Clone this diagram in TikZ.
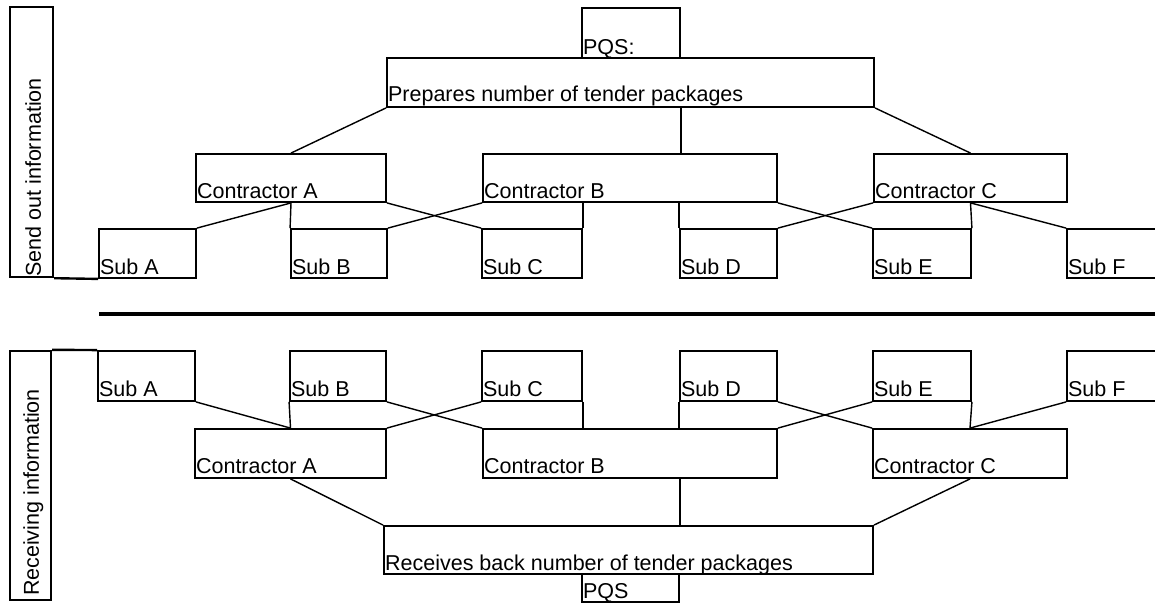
\documentclass[tikz,border=0pt]{standalone}
\usepackage{fontspec}
\setmainfont{Liberation Sans}
\usetikzlibrary{fit}
\tikzset{
  box/.style={draw, rectangle, inner sep=0pt, line width=1.3pt},
  sidebox/.style={draw, rectangle, inner sep=0pt, line width=1.7pt},
  lbl/.style={anchor=base west, inner sep=0pt, xshift=1.2pt, yshift=3.3pt},
  sidelbl/.style={anchor=base west, inner sep=0pt, xshift=-9.5pt, yshift=#1, rotate=90},
  link/.style={line width=1pt},
}

\begin{document}
\begin{tikzpicture}[x=0.025cm, y=-0.025cm, font=\fontsize{15.3pt}{18pt}\selectfont]
\useasboundingbox (0,0) rectangle (1155,603);
\clip (0,0) rectangle (1155,603);
% send out information
\node[sidebox, fit={(10,7) (53,277)}, label={[sidelbl=0.8pt]south east:Send out information}] (sideS) {};
\node[box, fit={(582,8) (680,58)}, label={[lbl]south west:PQS:}] (pqsT) {};
\node[box, fit={(387,58) (874,107)}, label={[lbl, yshift=1.4pt]south west:Prepares number of tender packages}] (prep) {};
% three contractors
\node[box, fit={(196,154) (386,202)}, label={[lbl]south west:Contractor A}] (cA) {};
\node[box, fit={(483,154) (777,202)}, label={[lbl]south west:Contractor B}] (cB) {};
\node[box, fit={(874,154) (1067,202)}, label={[lbl]south west:Contractor C}] (cC) {};
% six subs
\node[box, fit={(99,229) (196,278)}, label={[lbl]south west:Sub A}] (subA) {};
\node[box, fit={(291,229) (387,278)}, label={[lbl]south west:Sub B}] (subB) {};
\node[box, fit={(482,229) (582,278)}, label={[lbl]south west:Sub C}] (subC) {};
\node[box, fit={(680,229) (777,278)}, label={[lbl]south west:Sub D}] (subD) {};
\node[box, fit={(873,229) (971,278)}, label={[lbl]south west:Sub E}] (subE) {};
\node[box, fit={(1067,229) (1170,278)}, label={[lbl]south west:Sub F}] (subF) {};
% lines down
\draw[sidebox] (sideS.south east) -- (subA.south west);
\draw[link] (prep.south west) -- (cA.north);
\draw[link] (pqsT.south east |- prep.south) -- (pqsT.south east |- cB.north);
\draw[link] (prep.south east) -- (cC.north);
\draw[link] (cA.south) -- (subA.north east);
\draw[link] (cA.south) -- (subB.north west);
\draw[link] (cA.south east) -- (subC.north west);
\draw[link] (cB.south west) -- (subB.north east);
\draw[link] (subC.north east |- cB.south) -- (subC.north east);
\draw[link] (subD.north west |- cB.south) -- (subD.north west);
\draw[link] (cB.south east) -- (subE.north west);
\draw[link] (cC.south west) -- (subD.north east);
\draw[link] (cC.south) -- (subE.north east);
\draw[link] (cC.south) -- (subF.north west);
% end of send out
\coordinate (sepL) at (99,314);
\coordinate (sepR) at (1155,314);
\draw[line width=2.5pt] (sepL) -- (sepR);
% receiving information
\node[sidebox, fit={(10,351) (51,600)}, label={[sidelbl=3.5pt]south east:Receiving information}] (sideR) {};
% six subs
\node[box, fit={(98,351) (195,401)}, label={[lbl, yshift=0.7pt]south west:Sub A}] (subA2) {};
\node[box, fit={(290,351) (386,401)}, label={[lbl, yshift=0.7pt]south west:Sub B}] (subB2) {};
\node[box, fit={(482,351) (582,401)}, label={[lbl, yshift=0.7pt]south west:Sub C}] (subC2) {};
\node[box, fit={(680,351) (777,401)}, label={[lbl, yshift=0.7pt]south west:Sub D}] (subD2) {};
\node[box, fit={(873,351) (971,401)}, label={[lbl, yshift=0.7pt]south west:Sub E}] (subE2) {};
\node[box, fit={(1067,351) (1170,401)}, label={[lbl, yshift=0.7pt]south west:Sub F}] (subF2) {};
% three contractors
\node[box, fit={(195,429) (386,478)}, label={[lbl, yshift=0.7pt]south west:Contractor A}] (cA2) {};
\node[box, fit={(483,429) (777,478)}, label={[lbl, yshift=0.7pt]south west:Contractor B}] (cB2) {};
\node[box, fit={(873,429) (1067,478)}, label={[lbl, yshift=0.7pt]south west:Contractor C}] (cC2) {};
\node[box, fit={(384,526) (873,574)}, label={[lbl]south west:Receives back number of tender packages}] (recv) {};
\node[box, fit={(582,574) (679,602)}, label={[lbl]south west:PQS}] (pqsB) {};
% lines up
\draw[sidebox] (sideR.north east) -- (subA2.north west);
\draw[link] (subA2.south east) -- (cA2.north);
\draw[link] (subB2.south west) -- (cA2.north);
\draw[link] (subB2.south east) -- (cB2.north west);
\draw[link] (subC2.south west) -- (cA2.north east);
\draw[link] (subC2.south east) -- (subC2.south east |- cB2.north);
\draw[link] (subD2.south west) -- (subD2.south west |- cB2.north);
\draw[link] (subD2.south east) -- (cC2.north west);
\draw[link] (subE2.south west) -- (cB2.north east);
\draw[link] (subE2.south east) -- (cC2.north);
\draw[link] (subF2.south west) -- (cC2.north);
\draw[link] (cA2.south) -- (recv.north west);
\draw[link] (pqsB.north east |- cB2.south) -- (pqsB.north east |- recv.north);
\draw[link] (cC2.south) -- (recv.north east);
\end{tikzpicture}
\end{document}
